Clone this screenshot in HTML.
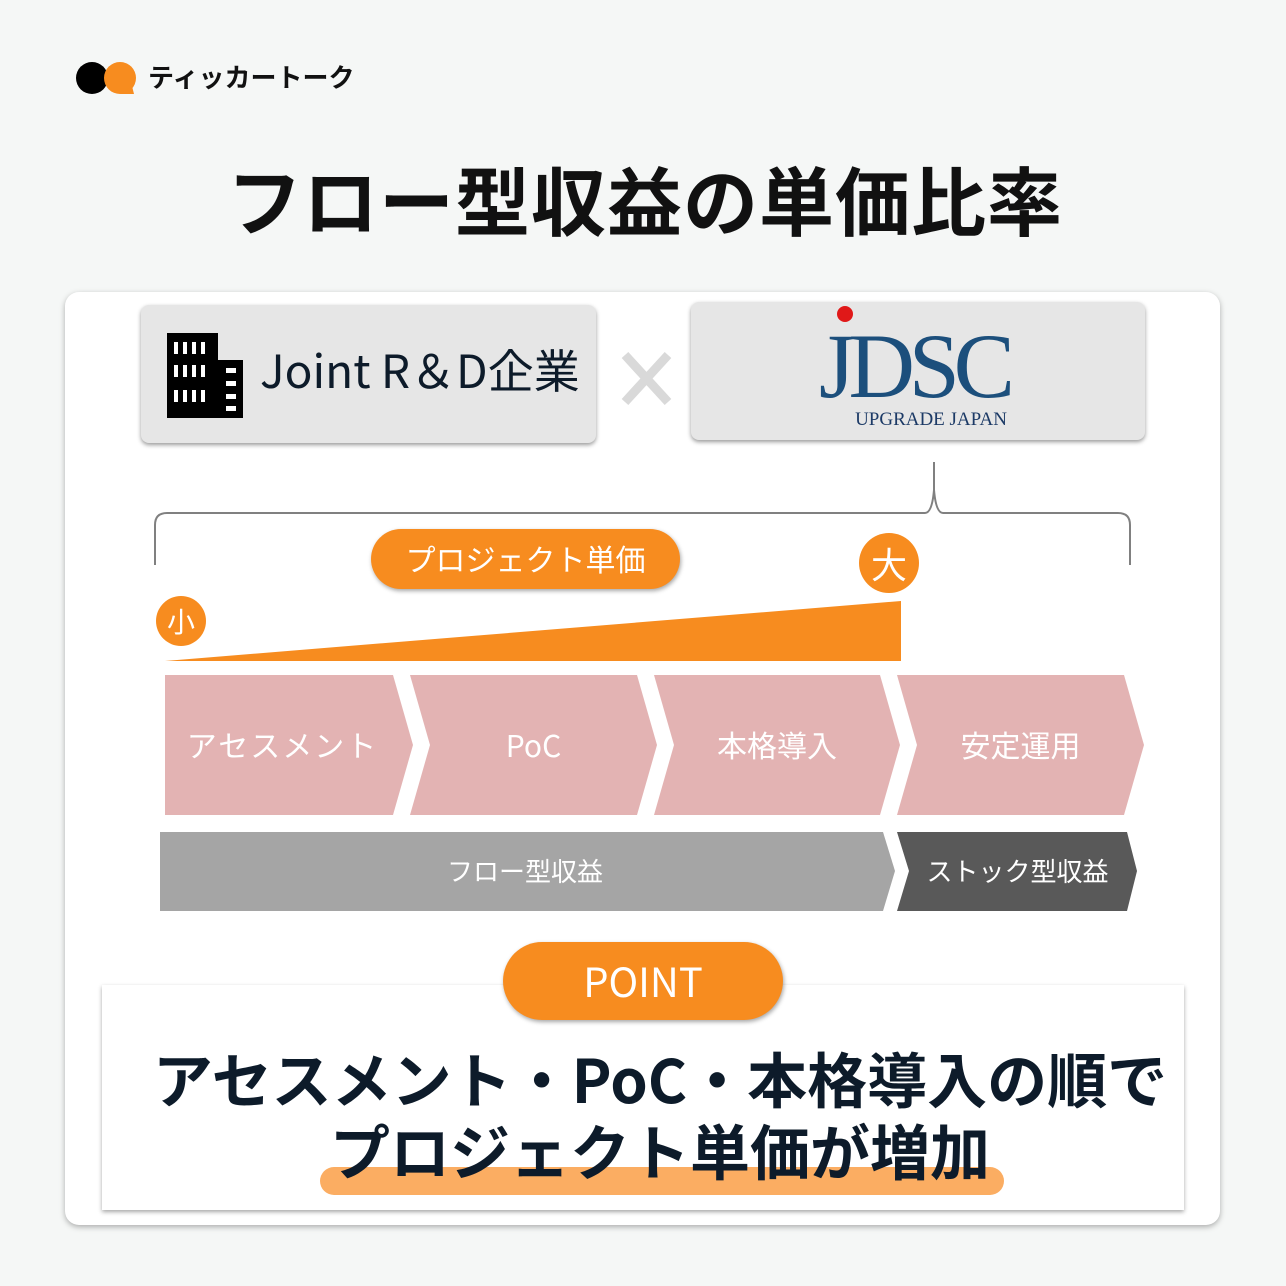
<!DOCTYPE html>
<html><head><meta charset="utf-8"><style>
body{margin:0;width:1286px;height:1286px;background:#f5f7f6;position:relative;overflow:hidden;font-family:"Liberation Sans","Noto Sans CJK JP",sans-serif}
.a{position:absolute}
.t{position:absolute;white-space:nowrap;text-align:center}
.c{font-family:"Noto Sans CJK JP","Liberation Sans",sans-serif;line-height:1}
</style></head><body>
<svg class="a" style="left:0;top:0" width="1286" height="1286">
<circle cx="92" cy="78" r="16" fill="#000"/>
<circle cx="120" cy="78" r="16" fill="#f78c1f"/>
<path d="M120 94 L134 94 L132 86 Z" fill="#f78c1f"/>
<rect x="65" y="292" width="1155" height="933" rx="14" fill="#fff" style="filter:drop-shadow(0 2px 3px rgba(0,0,0,.3))"/>
<rect x="141" y="305" width="455" height="138" rx="8" fill="#e6e6e6" style="filter:drop-shadow(0 2px 2px rgba(0,0,0,.4))"/>
<rect x="691" y="302" width="454" height="138" rx="8" fill="#e6e6e6" style="filter:drop-shadow(0 2px 2px rgba(0,0,0,.4))"/>
<rect x="167" y="333" width="51" height="85" fill="#000"/>
<rect x="214" y="360" width="29" height="58" fill="#000"/>
<g fill="#fff">
<rect x="174" y="342" width="4" height="12"/><rect x="183" y="342" width="4" height="12"/><rect x="192" y="342" width="4" height="12"/><rect x="201" y="342" width="4" height="12"/>
<rect x="174" y="365" width="4" height="12"/><rect x="183" y="365" width="4" height="12"/><rect x="192" y="365" width="4" height="12"/><rect x="201" y="365" width="4" height="12"/>
<rect x="174" y="390" width="4" height="12"/><rect x="183" y="390" width="4" height="12"/><rect x="192" y="390" width="4" height="12"/><rect x="201" y="390" width="4" height="12"/>
<rect x="226" y="368" width="10" height="5"/><rect x="226" y="381" width="10" height="5"/><rect x="226" y="394" width="10" height="5"/><rect x="226" y="406" width="10" height="5"/>
</g>
<path d="M625 355 L668 402 M668 355 L625 402" stroke="#d9d9d9" stroke-width="9"/>
<circle cx="845" cy="314" r="8" fill="#e01818"/>
<text x="917" y="397" font-family="Liberation Serif,serif" font-size="92" fill="#1c4f7c" text-anchor="middle" textLength="196">JDSC</text>
<text x="931" y="425" font-family="Liberation Serif,serif" font-size="19" fill="#1c3a66" text-anchor="middle">UPGRADE JAPAN</text>
<path d="M155 565 L155 525 Q155 513 167 513 L925 513 Q932 513 934 490 L934 462 M934 490 Q936 513 943 513 L1118 513 Q1130 513 1130 525 L1130 565" fill="none" stroke="#808080" stroke-width="2"/>
<rect x="371" y="529" width="309" height="60" rx="30" fill="#f78c1f" style="filter:drop-shadow(1px 2px 2px rgba(0,0,0,.35))"/>
<circle cx="889" cy="563" r="30" fill="#f78c1f"/>
<circle cx="181" cy="621" r="25" fill="#f78c1f"/>
<path d="M165 661 L901 601 L901 661 Z" fill="#f78c1f"/>
<g fill="#e3b3b3">
<path d="M165 675 L393 675 L413 745 L393 815 L165 815 Z"/>
<path d="M410 675 L637 675 L657 745 L637 815 L410 815 L430 745 Z"/>
<path d="M654 675 L880 675 L900 745 L880 815 L654 815 L674 745 Z"/>
<path d="M897 675 L1124 675 L1144 745 L1124 815 L897 815 L917 745 Z"/>
</g>
<path d="M160 832 L883 832 L895 871 L883 911 L160 911 Z" fill="#a5a5a5"/>
<path d="M897 832 L1127 832 L1137 871 L1127 911 L897 911 L909 871 Z" fill="#595959"/>
<rect x="102" y="985" width="1082" height="225" fill="#fff" style="filter:drop-shadow(0 2px 2px rgba(0,0,0,.35))"/>
<rect x="503" y="942" width="280" height="78" rx="39" fill="#f78c1f" style="filter:drop-shadow(1px 2px 2px rgba(0,0,0,.35))"/>
<rect x="320" y="1167" width="684" height="28" rx="14" fill="#fbad62"/>
</svg>
<div class="t c" style="left:148px;top:64px;font-size:26px;font-weight:bold;color:#111">ティッカートーク</div>
<div class="t c" style="left:0;width:1290px;top:160px;font-size:75px;font-weight:bold;color:#111;letter-spacing:1px">フロー型収益の単価比率</div>
<div class="t c" style="left:260px;top:346px;font-size:46px;color:#0d1b2a">Joint R＆D企業</div>
<div class="t c" style="left:371px;top:543px;width:309px;font-size:30px;color:#fff">プロジェクト単価</div>
<div class="t c" style="left:859px;top:545px;width:60px;font-size:36px;color:#fff">大</div>
<div class="t c" style="left:156px;top:607px;width:50px;font-size:28px;color:#fff">小</div>
<div class="t c" style="left:165px;top:729px;width:235px;font-size:30px;color:#fff;letter-spacing:2px">アセスメント</div>
<div class="t c" style="left:420px;top:729px;width:227px;font-size:30px;color:#fff">PoC</div>
<div class="t c" style="left:664px;top:729px;width:226px;font-size:30px;color:#fff">本格導入</div>
<div class="t c" style="left:907px;top:729px;width:227px;font-size:30px;color:#fff">安定運用</div>
<div class="t c" style="left:160px;top:858px;width:730px;font-size:26px;color:#fff">フロー型収益</div>
<div class="t c" style="left:900px;top:858px;width:235px;font-size:26px;color:#fff">ストック型収益</div>
<div class="t c" style="left:503px;top:960px;width:280px;font-size:40px;color:#fff">POINT</div>
<div class="t c" style="left:60px;width:1200px;top:1048px;font-size:60px;font-weight:bold;color:#0d1b2a">アセスメント・PoC・本格導入の順で</div>
<div class="t c" style="left:60px;width:1200px;top:1120px;font-size:60px;font-weight:bold;color:#0d1b2a">プロジェクト単価が増加</div>
</body></html>
